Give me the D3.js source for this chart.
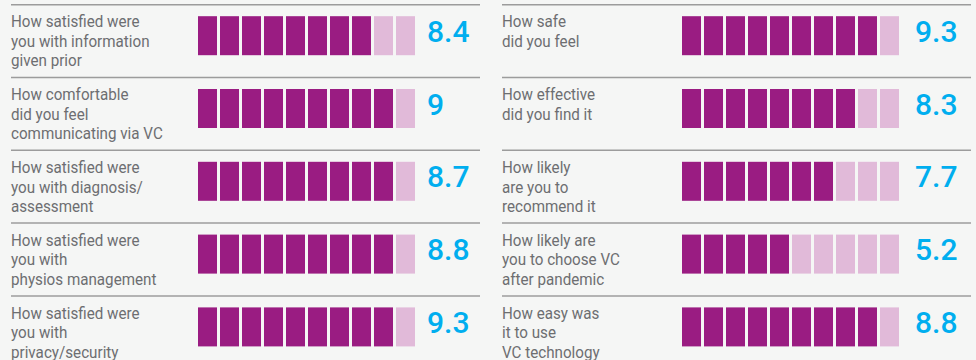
<!DOCTYPE html>
<html>
<head>
<meta charset="utf-8">
<script src="https://cdn.jsdelivr.net/npm/d3@7"></script>
<style>
  html, body { margin: 0; padding: 0; background: #f5f6f5; }
  svg { display: block; }
</style>
</head>
<body>
<svg id="chart" width="976" height="360"></svg>
<script>
// Survey questions, one group per column; each label is split into its printed lines
const leftQuestions = [
  ["How satisfied were", "you with information", "given prior"],
  ["How comfortable", "did you feel", "communicating via VC"],
  ["How satisfied were", "you with diagnosis/", "assessment"],
  ["How satisfied were", "you with", "physios management"],
  ["How satisfied were", "you with", "privacy/security"]
];
const rightQuestions = [
  ["How safe", "did you feel"],
  ["How effective", "did you find it"],
  ["How likely", "are you to", "recommend it"],
  ["How likely are", "you to choose VC", "after pandemic"],
  ["How easy was", "it to use", "VC technology"]
];

// Average scores out of 10
const leftScores = [8.4, 9, 8.7, 8.8, 9.3];
const rightScores = [9.3, 8.3, 7.7, 5.2, 8.8];

// Number of filled blocks shown for each score
const leftFilled = [8, 9, 9, 9, 9];
const rightFilled = [9, 8, 7, 5, 9];

const scaleMax = 10;

const svg = d3.select("#chart");

const colors = {
  filled: "#9a1c82",
  empty: "#e1bad9",
  value: "#00aeef",
  label: "#6d6e71",
  rule: "#9c9c9c"
};

// Row positions (top rule of each row)
const rowY = d3.scaleLinear().domain([0, 5]).range([4.7, 368.7]);

const columns = [
  { x0: 11, blocks: 198, value: 427, questions: leftQuestions, scores: leftScores, filled: leftFilled },
  { x0: 502, blocks: 682, value: 915, questions: rightQuestions, scores: rightScores, filled: rightFilled }
];

const blockIdx = d3.range(scaleMax);

columns.forEach(col => {
  const blockX = d3.scaleBand()
    .domain(blockIdx)
    .range([col.blocks, col.blocks + 217])
    .paddingInner(0.136)
    .paddingOuter(0);

  const rows = svg.append("g")
    .selectAll("g.row")
    .data(col.questions.map((q, i) => ({ q, score: col.scores[i], filled: col.filled[i], i })))
    .join("g")
    .attr("class", "row")
    .attr("transform", d => `translate(0,${rowY(d.i)})`);

  // top rule
  rows.append("line")
    .attr("x1", col.x0)
    .attr("x2", col.x0 + 469)
    .attr("y1", 0)
    .attr("y2", 0)
    .attr("stroke", colors.rule)
    .attr("stroke-width", 1.5);

  // question label, set slightly condensed
  rows.append("text")
    .attr("transform", `translate(${col.x0},0) scale(0.95,1)`)
    .attr("font-family", "Roboto, 'Liberation Sans', sans-serif")
    .attr("font-size", 16)
    .attr("fill", colors.label)
    .selectAll("tspan")
    .data(d => d.q)
    .join("tspan")
    .attr("x", 0)
    .attr("y", (t, j) => 22.8 + j * 19.5)
    .text(t => t);

  // score blocks
  rows.selectAll("rect")
    .data(d => blockIdx.map(k => ({ k, on: k < d.filled })))
    .join("rect")
    .attr("x", b => blockX(b.k))
    .attr("y", 11.5)
    .attr("width", blockX.bandwidth())
    .attr("height", 39)
    .attr("fill", b => b.on ? colors.filled : colors.empty);

  // score value
  rows.append("text")
    .attr("x", col.value)
    .attr("y", 37)
    .attr("font-family", "Roboto, 'Liberation Sans', sans-serif")
    .attr("font-weight", 500)
    .attr("font-size", 30)
    .attr("fill", colors.value)
    .text(d => d.score);
});
</script>
</body>
</html>
